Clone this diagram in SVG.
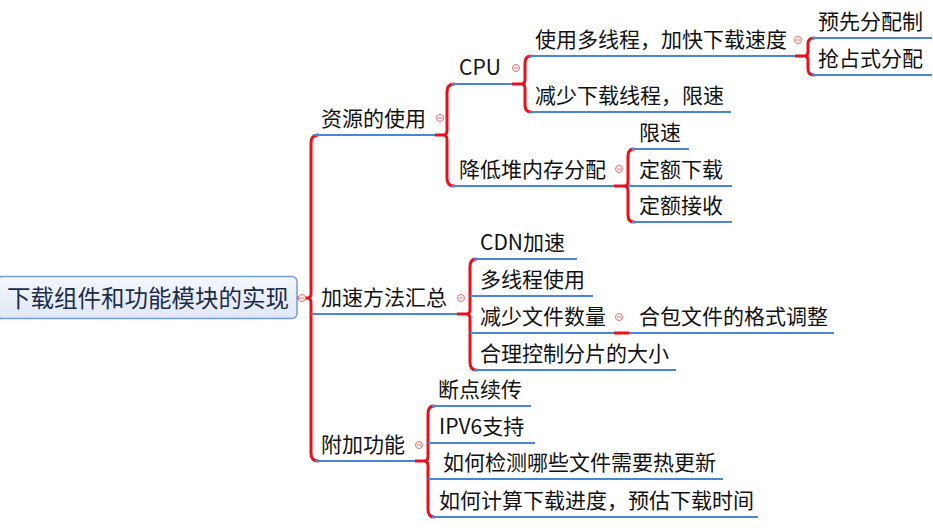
<svg xmlns="http://www.w3.org/2000/svg" width="933" height="532" viewBox="0 0 933 532">
<defs>
<linearGradient id="rootFill" x1="0" y1="0" x2="0" y2="1">
<stop offset="0" stop-color="#f4f7fc"/>
<stop offset="1" stop-color="#dfe8f5"/>
</linearGradient>
</defs>
<style>
.t{font-family:"Noto Sans CJK SC","Microsoft YaHei",sans-serif;font-size:21px;fill:#111}
.root{font-family:"Noto Sans CJK SC","Microsoft YaHei",sans-serif;font-size:23.5px;fill:#1c2b4a}
.ul{stroke:#4a86d4;stroke-width:2;fill:none}
.br{stroke:#e8111b;stroke-width:3;fill:none;stroke-linecap:round}
.stub{stroke:#e8111b;stroke-width:3;fill:none}
.col{fill:#fff;stroke:#e86a6a;stroke-width:1}
.colm{stroke:#e86a6a;stroke-width:1}
</style>
<g id="connectors">
<path class="stub" d="M297 298 L311 298"/>
<path class="br" d="M318 135 Q311 135 311 143 L311 293 Q311 298 308 298 Q311 298 311 303 L311 453 Q311 461 318 461"/>
<path class="stub" d="M435 135 L447 135"/>
<path class="br" d="M454 84 Q447 84 447 92 L447 130 Q447 135 444 135 Q447 135 447 140 L447 178 Q447 186 454 186"/>
<path class="stub" d="M512 84 L525 84"/>
<path class="br" d="M531 56 Q525 56 525 63 L525 79 Q525 84 522 84 Q525 84 525 89 L525 105 Q525 112 531 112"/>
<path class="stub" d="M795 56 L808 56"/>
<path class="br" d="M814 38 Q808 38 808 44 L808 52 Q808 56 805 56 Q808 56 808 60 L808 69 Q808 75 814 75"/>
<path class="stub" d="M614 186 L628 186"/>
<path class="br" d="M634 149 Q628 149 628 156 L628 181 Q628 186 625 186 Q628 186 628 191 L628 215 Q628 222 634 222"/>
<path class="stub" d="M457 314 L470 314"/>
<path class="br" d="M476 259 Q470 259 470 267 L470 309 Q470 314 467 314 Q470 314 470 319 L470 362 Q470 370 476 370"/>
<path class="stub" d="M614 333 L629 333"/>
<path class="stub" d="M415 461 L428 461"/>
<path class="br" d="M434 406 Q428 406 428 414 L428 456 Q428 461 425 461 Q428 461 428 466 L428 509 Q428 517 434 517"/>
</g>
<g id="root">
<rect x="-3" y="276.500" width="300" height="42" rx="5" fill="url(#rootFill)" stroke="#6f9fdb" stroke-width="1.5"/>
<text class="root" x="7" y="307">下载组件和功能模块的实现</text>
<circle class="col" cx="302" cy="298" r="3.500"/><line class="colm" x1="300" y1="298" x2="304" y2="298"/>
</g>
<g id="n-ziyuan">
<line class="ul" x1="313" y1="135" x2="435" y2="135"/>
<text class="t" x="321" y="126">资源的使用</text>
<circle class="col" cx="440" cy="118" r="3.500"/><line class="colm" x1="438" y1="118" x2="442" y2="118"/>
</g>
<g id="n-cpu">
<line class="ul" x1="451" y1="84" x2="512" y2="84"/>
<text class="t" x="459" y="75">CPU</text>
<circle class="col" cx="516" cy="68" r="3.500"/><line class="colm" x1="514" y1="68" x2="518" y2="68"/>
</g>
<g id="n-duoxiancheng">
<line class="ul" x1="529" y1="56" x2="795" y2="56"/>
<text class="t" x="535" y="47">使用多线程，加快下载速度</text>
<circle class="col" cx="798" cy="40" r="3.500"/><line class="colm" x1="796" y1="40" x2="800" y2="40"/>
</g>
<g id="n-yuxian">
<line class="ul" x1="812" y1="38" x2="932" y2="38"/>
<text class="t" x="818" y="29">预先分配制</text>
</g>
<g id="n-qiangzhan">
<line class="ul" x1="812" y1="75" x2="932" y2="75"/>
<text class="t" x="818" y="66">抢占式分配</text>
</g>
<g id="n-jianshao">
<line class="ul" x1="529" y1="112" x2="731" y2="112"/>
<text class="t" x="535" y="103">减少下载线程，限速</text>
</g>
<g id="n-jiangdi">
<line class="ul" x1="451" y1="186" x2="614" y2="186"/>
<text class="t" x="459" y="177">降低堆内存分配</text>
<circle class="col" cx="619" cy="169" r="3.500"/><line class="colm" x1="617" y1="169" x2="621" y2="169"/>
</g>
<g id="n-xiansu">
<line class="ul" x1="632" y1="149" x2="689" y2="149"/>
<text class="t" x="639" y="140">限速</text>
</g>
<g id="n-dingexiazai">
<line class="ul" x1="628" y1="186" x2="732" y2="186"/>
<text class="t" x="639" y="177">定额下载</text>
</g>
<g id="n-dingejieshou">
<line class="ul" x1="632" y1="222" x2="732" y2="222"/>
<text class="t" x="639" y="213">定额接收</text>
</g>
<g id="n-jiasu">
<line class="ul" x1="311" y1="314" x2="457" y2="314"/>
<text class="t" x="321" y="305">加速方法汇总</text>
<circle class="col" cx="461" cy="298" r="3.500"/><line class="colm" x1="459" y1="298" x2="463" y2="298"/>
</g>
<g id="n-cdn">
<line class="ul" x1="474" y1="259" x2="577" y2="259"/>
<text class="t" x="480" y="250">CDN加速</text>
</g>
<g id="n-duoxianchengshiyong">
<line class="ul" x1="470" y1="296" x2="593" y2="296"/>
<text class="t" x="480" y="287">多线程使用</text>
</g>
<g id="n-jianshaowenjian">
<line class="ul" x1="470" y1="333" x2="614" y2="333"/>
<text class="t" x="480" y="324">减少文件数量</text>
<circle class="col" cx="619" cy="317" r="3.500"/><line class="colm" x1="617" y1="317" x2="621" y2="317"/>
</g>
<g id="n-hebao">
<line class="ul" x1="629" y1="333" x2="834" y2="333"/>
<text class="t" x="639" y="324">合包文件的格式调整</text>
</g>
<g id="n-heli">
<line class="ul" x1="474" y1="370" x2="676" y2="370"/>
<text class="t" x="480" y="361">合理控制分片的大小</text>
</g>
<g id="n-fujia">
<line class="ul" x1="315" y1="461" x2="415" y2="461"/>
<text class="t" x="321" y="452">附加功能</text>
<circle class="col" cx="419" cy="445" r="3.500"/><line class="colm" x1="417" y1="445" x2="421" y2="445"/>
</g>
<g id="n-duandian">
<line class="ul" x1="432" y1="406" x2="531" y2="406"/>
<text class="t" x="438" y="397">断点续传</text>
</g>
<g id="n-ipv6">
<line class="ul" x1="428" y1="443" x2="535" y2="443"/>
<text class="t" x="439" y="434">IPV6支持</text>
</g>
<g id="n-jiance">
<line class="ul" x1="428" y1="479" x2="723" y2="479"/>
<text class="t" x="443" y="470">如何检测哪些文件需要热更新</text>
</g>
<g id="n-jisuan">
<line class="ul" x1="432" y1="517" x2="758" y2="517"/>
<text class="t" x="439" y="508">如何计算下载进度，预估下载时间</text>
</g>
</svg>
